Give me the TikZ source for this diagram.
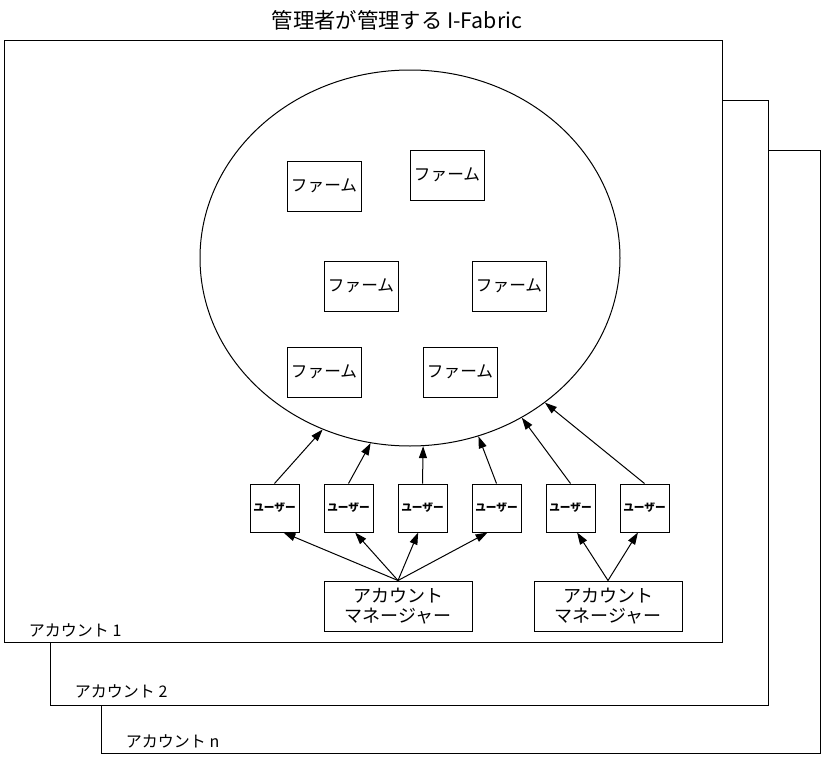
\documentclass[tikz,border=0pt]{standalone}
\usepackage{fontspec}
\setmainfont{Noto Sans CJK JP}
\usetikzlibrary{shapes.geometric, arrows.meta}

\begin{document}
\begin{tikzpicture}[x=0.75pt, y=-0.75pt, line width=0.75pt,
    farmbox/.style={draw, minimum width=55.5pt, minimum height=37.5pt, inner sep=0pt, font=\fontsize{12.5}{14}\selectfont},
    userbox/.style={draw, minimum width=36.75pt, minimum height=36pt, inner sep=0pt, font=\fontsize{8}{9}\selectfont\bfseries},
    mgrbox/.style={draw, minimum width=111pt, minimum height=37.5pt, inner sep=0pt, align=center, font=\fontsize{13.5}{14.5}\selectfont},
    acct/.style={anchor=west, font=\fontsize{12}{14}\selectfont},
    arr/.style={-{Triangle[length=9pt, width=6pt]}}]
    \useasboundingbox (0,0) rectangle (822,757);

    % Stacked account frames
    \draw[fill=white] (101,150) rectangle (820,753);
    \draw[fill=white] (50,100) rectangle (768,705);
    \draw[fill=white] (4,40) rectangle (722,642);
    \node[acct] (acct1) at (24,630) {アカウント 1};
    \node[acct] (acct2) at (70,691) {アカウント 2};
    \node[acct] (acctn) at (121,741) {アカウント n};

    \node[font=\fontsize{16}{18}\selectfont] (title) at (397,20) {管理者が管理する I-Fabric};

    % The fabric and its farms
    \node[draw, ellipse, minimum width=315pt, minimum height=282pt, inner sep=0pt] (fabric) at (410,258) {};
    \node[farmbox] (farm1) at (324,186) {ファーム};
    \node[farmbox] (farm2) at (447,175) {ファーム};
    \node[farmbox] (farm3) at (361,286) {ファーム};
    \node[farmbox] (farm4) at (509,286) {ファーム};
    \node[farmbox] (farm5) at (324,372) {ファーム};
    \node[farmbox] (farm6) at (460,372) {ファーム};

    % Users
    \foreach \i/\x in {1/274.5, 2/348.5, 3/422.5, 4/496.5, 5/570.5, 6/644.5}
        \node[userbox] (user\i) at (\x,508) {ユーザー};

    \foreach \i/\a in {1/243, 2/258, 3/274, 4/291, 5/305, 6/313.5}
        \draw[arr] (user\i.north) -- (fabric.\a);

    % Account managers
    \node[mgrbox] (mgr1) at (398,606) {アカウント\\マネージャー};
    \node[mgrbox] (mgr2) at (608,606) {アカウント\\マネージャー};

    \foreach \i/\a in {1/-70, 2/-75, 3/-100, 4/-110}
        \draw[arr] (mgr1.north) -- (user\i.\a);
    \foreach \i/\a in {5/-75, 6/-105}
        \draw[arr] (mgr2.north) -- (user\i.\a);
\end{tikzpicture}
\end{document}
